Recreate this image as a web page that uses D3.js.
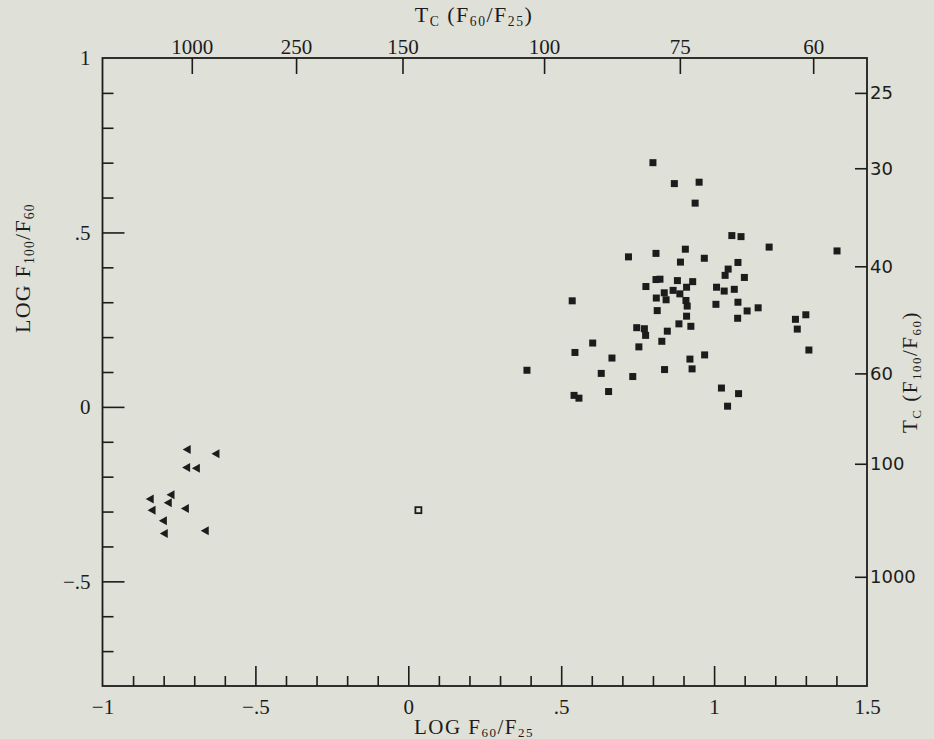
<!DOCTYPE html>
<html>
<head>
<meta charset="utf-8">
<script src="https://cdn.jsdelivr.net/npm/d3@7"></script>
<style>
  html, body { margin: 0; padding: 0; background: #dfe0d8; }
  svg { display: block; }
</style>
</head>
<body>
<svg id="chart" width="934" height="739"></svg>
<script>
// Colour-ratio diagram: log F60/F25 against log F100/F60

// Galaxies (filled squares)
const galaxyX = [0.80, 0.87, 0.72, 0.81, 0.89, 0.81, 0.823, 0.88, 0.777, 0.837, 0.866, 0.888, 0.811, 0.843,
  0.814, 0.536, 0.747, 0.772, 0.776, 0.885, 0.847, 0.829, 0.754, 0.603, 0.545, 0.666, 0.388, 0.631,
  0.734, 0.838, 0.542, 0.558, 0.655, 0.951, 0.938, 1.058, 1.088, 1.180, 1.402, 0.906, 0.968, 1.078,
  1.046, 1.036, 1.099, 0.930, 0.910, 1.008, 1.033, 1.066, 0.908, 0.912, 1.006, 1.078, 1.108, 1.144,
  0.910, 0.924, 1.077, 1.266, 1.300, 1.272, 1.310, 0.921, 0.969, 0.928, 1.024, 1.080, 1.044];
const galaxyY = [0.70, 0.64, 0.43, 0.44, 0.415, 0.365, 0.366, 0.362, 0.345, 0.327, 0.334, 0.324, 0.312, 0.307,
  0.276, 0.304, 0.227, 0.224, 0.205, 0.238, 0.217, 0.188, 0.172, 0.183, 0.156, 0.140, 0.105, 0.096,
  0.087, 0.107, 0.033, 0.025, 0.044, 0.644, 0.584, 0.491, 0.488, 0.458, 0.447, 0.452, 0.426, 0.414,
  0.395, 0.377, 0.371, 0.359, 0.343, 0.343, 0.332, 0.337, 0.305, 0.289, 0.294, 0.300, 0.275, 0.284,
  0.260, 0.231, 0.254, 0.251, 0.264, 0.223, 0.163, 0.137, 0.149, 0.109, 0.054, 0.038, 0.002];

// Hot sources (left-pointing triangles)
const hotX = [-0.723, -0.629, -0.725, -0.693, -0.776, -0.844, -0.785, -0.838, -0.729, -0.801, -0.798, -0.664];
const hotY = [-0.122, -0.134, -0.174, -0.176, -0.252, -0.264, -0.275, -0.296, -0.291, -0.326, -0.363, -0.355];

// Single open square
const openX = [0.033];
const openY = [-0.296];

// Axis ticks
const xLabelTicks = [-1, -0.5, 0, 0.5, 1, 1.5];
const xMajorTicks = [-0.5, 0, 0.5, 1];
const xMinorTicks = d3.range(-9, 15).map(d => d / 10).filter(d => Math.abs(d * 2 - Math.round(d * 2)) > 1e-6);
const yLabelTicks = [1, 0.5, 0, -0.5];
const yMajorTicks = [0.5, 0, -0.5];
const yMinorTicks = d3.range(-7, 10).map(d => d / 10).filter(d => Math.abs(d * 2 - Math.round(d * 2)) > 1e-6);

// Colour temperature scales
const topTempValues = [-0.708, -0.367, -0.019, 0.444, 0.888, 1.324];
const topTempLabels = ["1000", "250", "150", "100", "75", "60"];
const rightTempValues = [0.900, 0.684, 0.403, 0.096, -0.163, -0.487];
const rightTempLabels = ["25", "30", "40", "60", "100", "1000"];

const ink = "#1c1c1c";
const serif = "'Liberation Serif', 'DejaVu Serif', serif";
const sans = "'DejaVu Sans', sans-serif";

const svg = d3.select("#chart");
const plotLeft = 102.5, plotRight = 867, plotTop = 58, plotBottom = 686;

const x = d3.scaleLinear().domain([-1, 1.5]).range([plotLeft, plotRight]);
const y = d3.scaleLinear().domain([-0.8, 1]).range([plotBottom, plotTop]);

const fmt = d => d === 0 ? "0" : (d < 0 ? "\u2212" : "") + String(Math.abs(d)).replace(/^0/, "");

function styleAxis(g, fontFamily, size) {
  g.select(".domain").remove();
  g.selectAll(".tick line").attr("stroke", ink).attr("stroke-width", 1.6);
  g.selectAll(".tick text").attr("font-family", fontFamily).attr("font-size", size).attr("fill", ink);
}

// Bottom axis: minor, major, labels
svg.append("g").attr("transform", `translate(0,${plotBottom})`)
  .call(d3.axisBottom(x).tickValues(xMinorTicks).tickSizeInner(-10).tickSizeOuter(0).tickFormat(""))
  .call(g => styleAxis(g, serif, 21));
svg.append("g").attr("transform", `translate(0,${plotBottom})`)
  .call(d3.axisBottom(x).tickValues(xMajorTicks).tickSizeInner(-20).tickSizeOuter(0).tickFormat(""))
  .call(g => styleAxis(g, serif, 21));
svg.append("g").attr("transform", `translate(0,${plotBottom})`)
  .call(d3.axisBottom(x).tickValues(xLabelTicks).tickSize(0).tickPadding(13).tickFormat(fmt))
  .call(g => styleAxis(g, serif, 21));

// Left axis
svg.append("g").attr("transform", `translate(${plotLeft},0)`)
  .call(d3.axisLeft(y).tickValues(yMinorTicks).tickSizeInner(-11).tickSizeOuter(0).tickFormat(""))
  .call(g => styleAxis(g, serif, 21));
svg.append("g").attr("transform", `translate(${plotLeft},0)`)
  .call(d3.axisLeft(y).tickValues(yMajorTicks).tickSizeInner(-22).tickSizeOuter(0).tickFormat(""))
  .call(g => styleAxis(g, serif, 21));
svg.append("g").attr("transform", `translate(${plotLeft},0)`)
  .call(d3.axisLeft(y).tickValues(yLabelTicks).tickSize(0).tickPadding(12).tickFormat(fmt))
  .call(g => styleAxis(g, serif, 21));

// Top axis: T_C from F60/F25
svg.append("g").attr("transform", `translate(0,${plotTop})`)
  .call(d3.axisTop(x).tickValues(topTempValues).tickSizeInner(-16).tickSizeOuter(0).tickPadding(4)
    .tickFormat((d, i) => topTempLabels[i]))
  .call(g => styleAxis(g, serif, 21));

// Right axis: T_C from F100/F60
svg.append("g").attr("transform", `translate(${plotRight},0)`)
  .call(d3.axisRight(y).tickValues(rightTempValues).tickSizeInner(-12).tickSizeOuter(0).tickPadding(3)
    .tickFormat((d, i) => rightTempLabels[i]))
  .call(g => styleAxis(g, sans, 18));

// Frame
svg.append("rect")
  .attr("x", plotLeft).attr("y", plotTop)
  .attr("width", plotRight - plotLeft).attr("height", plotBottom - plotTop)
  .attr("fill", "none").attr("stroke", ink).attr("stroke-width", 1.8);

// Titles with subscripts
function title(parts, attrs, size, family, spacing, drop) {
  const t = svg.append("text")
    .attr("font-family", family).attr("font-size", size).attr("fill", ink)
    .attr("text-anchor", "middle").attr("letter-spacing", spacing);
  Object.entries(attrs).forEach(([k, v]) => t.attr(k, v));
  let shifted = false;
  parts.forEach(p => {
    if (p.sub) {
      t.append("tspan").attr("font-size", size * 0.62).attr("dy", shifted ? 0 : drop).text(p.sub);
      shifted = true;
    } else {
      t.append("tspan").attr("dy", shifted ? -drop : 0).text(p.t);
      shifted = false;
    }
  });
  return t;
}

title([{t: "T"}, {sub: "C"}, {t: " (F"}, {sub: "60"}, {t: "/F"}, {sub: "25"}, {t: ")"}],
  {x: 474, y: 22}, 22, serif, 1.5, 4);
title([{t: "LOG F"}, {sub: "60"}, {t: "/F"}, {sub: "25"}],
  {x: 474, y: 734}, 21, serif, 1.5, 3);
title([{t: "LOG F"}, {sub: "100"}, {t: "/F"}, {sub: "60"}],
  {transform: "translate(30,268) rotate(-90)"}, 22, serif, 1.2, 4);
title([{t: "T"}, {sub: "C"}, {t: " (F"}, {sub: "100"}, {t: "/F"}, {sub: "60"}, {t: ")"}],
  {transform: "translate(917,372) rotate(-90)"}, 21, serif, 1.5, 4);

// Data marks
const galaxies = d3.zip(galaxyX, galaxyY);
const hot = d3.zip(hotX, hotY);
const open = d3.zip(openX, openY);

svg.append("g").selectAll("rect").data(galaxies).join("rect")
  .attr("x", d => x(d[0]) - 3.5).attr("y", d => y(d[1]) - 3.5)
  .attr("width", 7).attr("height", 7)
  .attr("fill", ink);

svg.append("g").selectAll("path").data(hot).join("path")
  .attr("transform", d => `translate(${x(d[0])},${y(d[1])})`)
  .attr("d", "M-4.5,0L3.5,-4.5L3.5,4.5Z")
  .attr("fill", ink);

svg.append("g").selectAll("rect").data(open).join("rect")
  .attr("x", d => x(d[0]) - 3).attr("y", d => y(d[1]) - 3)
  .attr("width", 6).attr("height", 6)
  .attr("fill", "none").attr("stroke", ink).attr("stroke-width", 1.8);
</script>
</body>
</html>
